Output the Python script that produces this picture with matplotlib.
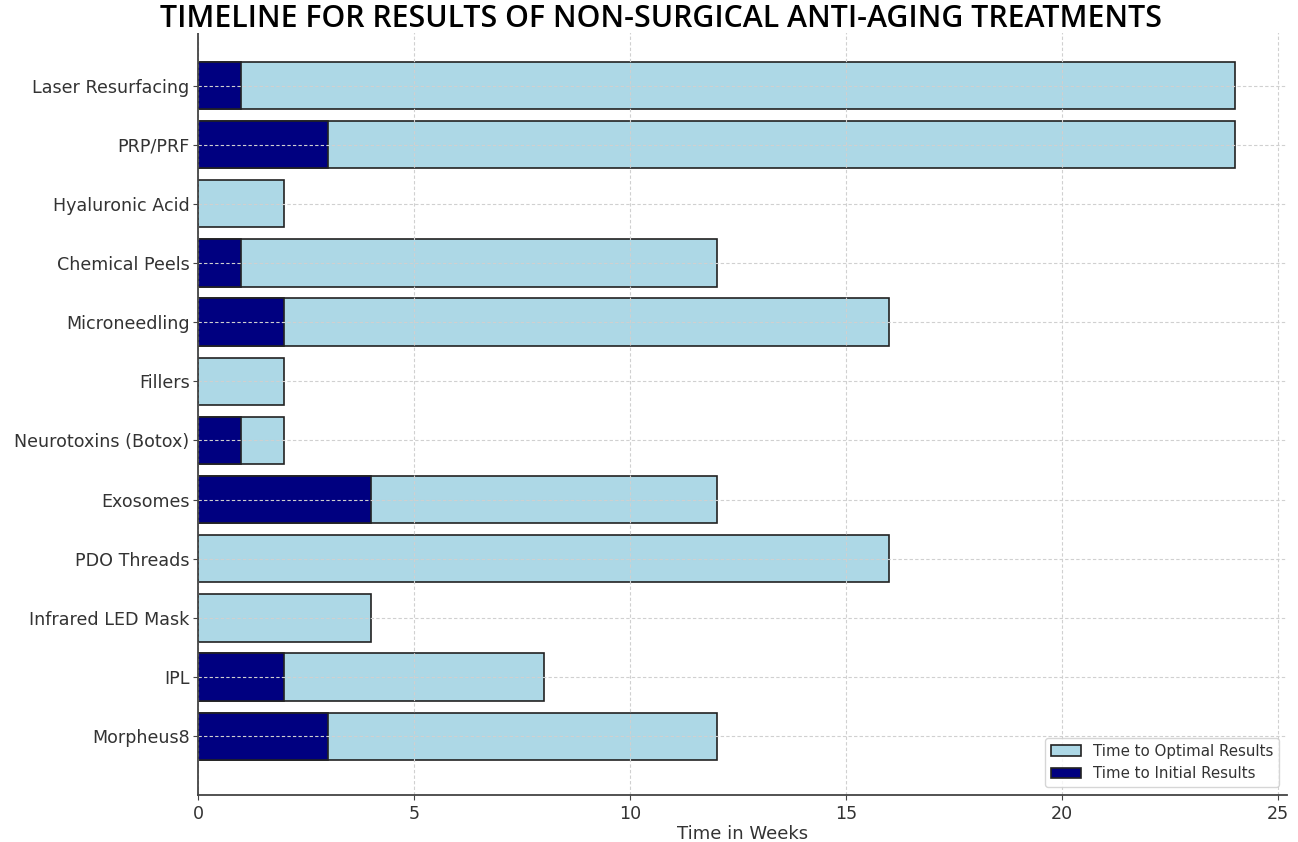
import matplotlib.pyplot as plt
from matplotlib.patches import Rectangle

# Data (top to bottom as shown)
treatments = ['Laser Resurfacing', 'PRP/PRF', 'Hyaluronic Acid', 'Chemical Peels',
              'Microneedling', 'Fillers', 'Neurotoxins (Botox)', 'Exosomes',
              'PDO Threads', 'Infrared LED Mask', 'IPL', 'Morpheus8']
initial_weeks = [1, 3, 0, 1, 2, 0, 1, 4, 0, 0, 2, 3]
optimal_weeks = [24, 24, 2, 12, 16, 2, 2, 12, 16, 4, 8, 12]

fig = plt.figure(figsize=(12.98, 8.42), dpi=100)
ax = fig.add_axes([0.1525, 0.056, 0.839, 0.912])

ax.barh(treatments, optimal_weeks, color='lightblue', edgecolor='#222222',
        linewidth=1.2, label='Time to Optimal Results')
ax.barh(treatments, initial_weeks, color='navy', edgecolor='#222222',
        linewidth=1.2, label='Time to Initial Results')
ax.invert_yaxis()

ax.set_xlim(0, 25.2)
ax.grid(True, linestyle=(0, (3, 2)), color='#d0d0d0', linewidth=0.8)
ax.set_xlabel('Time in Weeks', fontsize=13, color='#333333', labelpad=2)
ax.tick_params(labelsize=12.6, labelcolor='#333333', color='#444444')
ax.tick_params(axis='y', pad=2.5)
for side in ['left', 'bottom']:
    ax.spines[side].set_color('#444444')
    ax.spines[side].set_linewidth(1.3)
ax.spines['top'].set_visible(False)
ax.spines['right'].set_visible(False)

leg = ax.legend(loc='lower right', fontsize=10.8)
for t in leg.get_texts():
    t.set_color('#333333')

# white band behind the title at the top
fig.patches.append(Rectangle((0, 1 - 33 / 842), 1, 33 / 842, transform=fig.transFigure,
                             facecolor='white', edgecolor='none', zorder=5))
fig.text(0.509, 0.977, 'TIMELINE FOR RESULTS OF NON-SURGICAL ANTI-AGING TREATMENTS',
         ha='center', va='center', fontsize=21.8, fontfamily='Open Sans',
         fontweight='semibold', color='black', zorder=6)

fig.savefig('out.png', dpi=100)
